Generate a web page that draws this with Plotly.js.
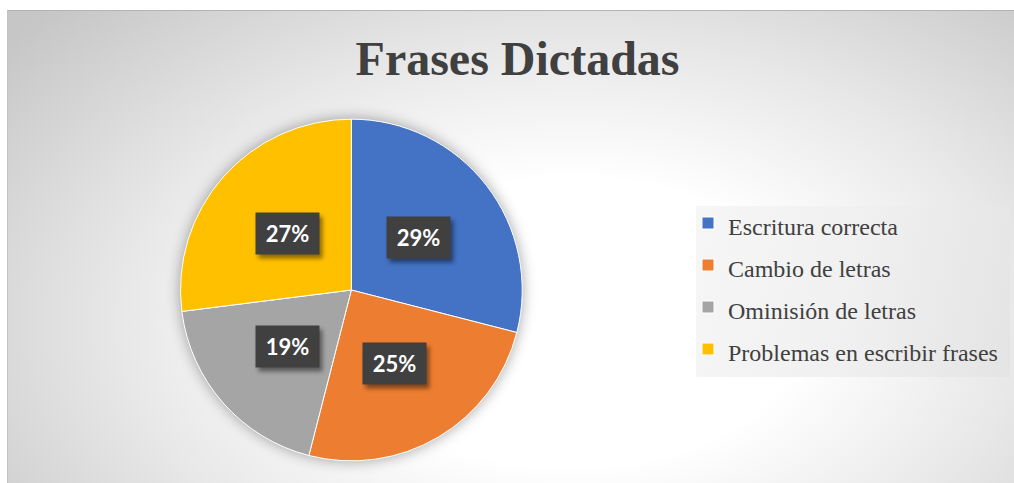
<!DOCTYPE html>
<html><head><meta charset="utf-8">
<script src="https://cdn.plot.ly/plotly-3.0.1.min.js"></script>
<style>
html,body{margin:0;padding:0;background:#fff;width:1014px;height:483px;overflow:hidden}
#bg{position:absolute;left:7px;top:10px;width:1007px;height:473px;border-top:1px solid #b4b4b4;border-left:1px solid #c4c4c4;box-sizing:border-box;
background:radial-gradient(ellipse 72% 95% at 56% 66%, #ffffff 0%, #ffffff 32%, #e8e8e8 62%, #c6c6c6 100%);}
#legbg{position:absolute;left:696px;top:206px;width:314px;height:171px;
background:linear-gradient(100deg, #f6f6f6 0%, #f0f0f0 50%, #e4e4e4 100%);}
#chart{position:absolute;left:0;top:0;width:1014px;height:483px}
.pielayer{filter:drop-shadow(0 0 7px rgba(0,0,0,0.35))}
.annotation rect.bg{filter:drop-shadow(3px 4px 2px rgba(0,0,0,0.45))}
</style></head>
<body><div id="bg"></div><div id="legbg"></div><div id="chart"></div>
<script>
const categories = ["Escritura correcta", "Cambio de letras", "Ominisión de letras", "Problemas en escribir frases"];
const values = [29, 25, 19, 27];
const colors = ["#4472C4", "#ED7D31", "#A5A5A5", "#FFC000"];
const titleText = "Frases Dictadas";

const W = 1014, H = 483;
const dom = {x: [0.178, 0.515], y: [0.0455, 0.7536]};
const total = values.reduce((a, b) => a + b, 0);

const legendLabels = categories.map(c => '<span style="font-size:24px">' + c + '</span>');

const trace = {
  type: 'pie',
  labels: legendLabels,
  values: values,
  sort: false,
  direction: 'clockwise',
  rotation: 0,
  domain: dom,
  marker: {colors: colors, line: {color: '#ffffff', width: 1}},
  textinfo: 'none',
  hoverinfo: 'none'
};

// percentage labels placed at half radius along each slice's mid-angle
const pxW = (dom.x[1] - dom.x[0]) * W, pxH = (dom.y[1] - dom.y[0]) * H;
const R = Math.min(pxW, pxH) / 2;
const cx = (dom.x[0] + dom.x[1]) / 2, cy = (dom.y[0] + dom.y[1]) / 2;
const annotations = [];
let cum = 0;
values.forEach((v, i) => {
  const mid = (cum + v / 2) / total;
  cum += v;
  const th = 2 * Math.PI * mid;
  const x = cx + 0.5 * R * Math.sin(th) / W;
  const y = cy + 0.5 * R * Math.cos(th) / H;
  const txt = Math.round(v / total * 100) + '%';
  annotations.push({xref: 'paper', yref: 'paper', x: x, y: y, xanchor: 'center', yanchor: 'middle',
    text: txt, showarrow: false, width: 59, height: 37, borderpad: 2,
    bgcolor: '#404040', font: {size: 22, color: '#ffffff', family: 'Lato', weight: 'bold'}});
});

const layout = {
  width: W, height: H,
  margin: {l: 0, r: 0, t: 0, b: 0},
  paper_bgcolor: 'rgba(0,0,0,0)',
  plot_bgcolor: 'rgba(0,0,0,0)',
  title: {
    text: titleText, x: 0.5104, xanchor: 'center', xref: 'paper',
    y: 1 - 58 / H, yref: 'container', yanchor: 'middle',
    font: {family: 'Liberation Serif', size: 48, color: '#404040', weight: 'bold'}
  },
  showlegend: true,
  legend: {
    x: 688 / W, y: 1 - 197 / H, xanchor: 'left', yanchor: 'top',
    bgcolor: 'rgba(0,0,0,0)', borderwidth: 0,
    font: {family: 'Liberation Serif', size: 30, color: '#404040'},
    valign: 'middle'
  },
  annotations: annotations
};

Plotly.newPlot('chart', [trace], layout, {displayModeBar: false, staticPlot: true});
</script>
</body></html>
